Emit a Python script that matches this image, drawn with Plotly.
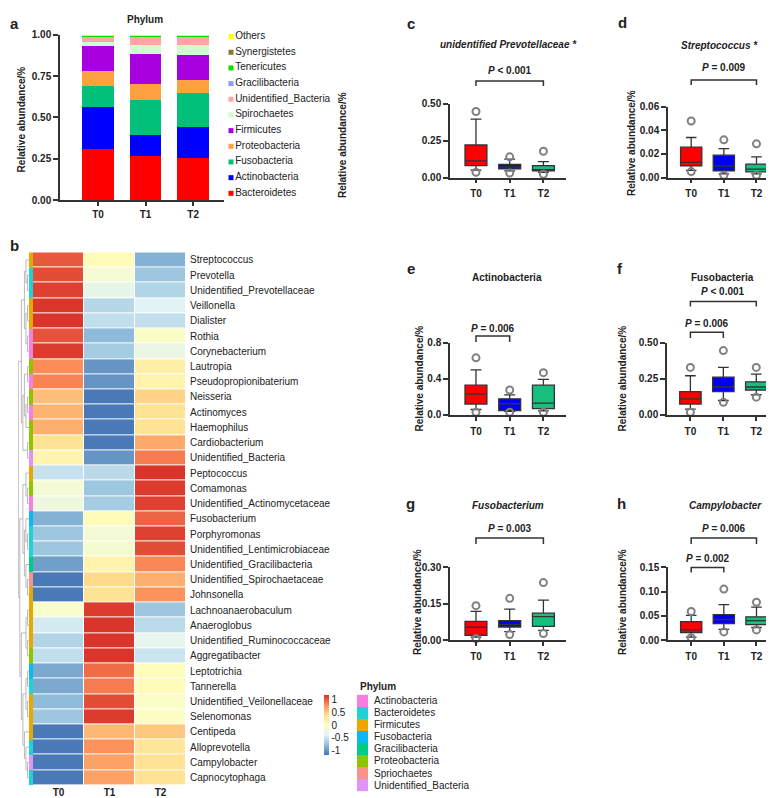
import plotly.graph_objects as go

W, H = 774, 798
FONT = "Liberation Sans"
INK = "#222222"
AX = "#333333"


def fx(p):
    return p / W


def fy(p):
    return 1 - p / H


# ---------------- data: panel a (stacked phylum composition) ----------------
groups = ["T0", "T1", "T2"]
phyla_a = ["Bacteroidetes", "Actinobacteria", "Fusobacteria", "Proteobacteria",
           "Firmicutes", "Spirochaetes", "Unidentified_Bacteria", "Gracilibacteria",
           "Tenericutes", "Synergistetes", "Others"]
bacteroidetes = [0.309, 0.265, 0.257]
actinobacteria = [0.251, 0.129, 0.187]
fusobacteria = [0.129, 0.212, 0.204]
proteobacteria = [0.089, 0.097, 0.081]
firmicutes = [0.155, 0.180, 0.148]
spirochaetes = [0.023, 0.052, 0.058]
unidentified_bacteria = [0.034, 0.055, 0.055]
gracilibacteria = [0.003, 0.003, 0.003]
tenericutes = [0.002, 0.002, 0.002]
synergistetes = [0.002, 0.002, 0.002]
others = [0.003, 0.003, 0.003]
colors_a = ["#FF0000", "#0000FF", "#00C07A", "#FFA040", "#A800DE", "#CCFFCC",
            "#FFA5A5", "#8C9CFF", "#00E000", "#8C7A2A", "#FFFF00"]

# ---------------- data: panel b (heatmap of genera, row z-scores) ----------------
genera = ["Streptococcus", "Prevotella", "Unidentified_Prevotellaceae", "Veillonella",
          "Dialister", "Rothia", "Corynebacterium", "Lautropia", "Pseudopropionibaterium",
          "Neisseria", "Actinomyces", "Haemophilus", "Cardiobacterium", "Unidentified_Bacteria",
          "Peptococcus", "Comamonas", "Unidentified_Actinomycetaceae", "Fusobacterium",
          "Porphyromonas", "Unidentified_Lentimicrobiaceae", "Unidentified_Gracilibacteria",
          "Unidentified_Spirochaetaceae", "Johnsonella", "Lachnoanaerobaculum", "Anaeroglobus",
          "Unidentified_Ruminococcaceae", "Aggregatibacter", "Leptotrichia", "Tannerella",
          "Unidentified_Veilonellaceae", "Selenomonas", "Centipeda", "Alloprevotella",
          "Campylobacter", "Capnocytophaga"]
z_t0 = [1.00, 1.05, 1.10, 1.14, 1.15, 1.02, 1.12, 0.78, 0.82, 0.55, 0.60, 0.62, 0.35, 0.12,
        -0.52, -0.15, -0.22, -0.85, -0.72, -0.72, -0.95, -1.15, -1.15, -0.08, -0.45, -0.62,
        -0.55, -0.90, -0.90, -0.80, -0.72, -1.15, -1.15, -1.15, -1.15]
z_t1 = [0.05, -0.13, -0.30, -0.60, -0.55, -0.80, -0.68, -1.00, -1.00, -1.15, -1.15, -1.15,
        -1.15, -1.00, -0.58, -0.72, -0.68, 0.05, -0.15, -0.12, 0.15, 0.42, 0.35, 1.12, 1.15,
        1.15, 1.15, 0.92, 0.85, 1.05, 1.12, 0.58, 0.75, 0.68, 0.68]
z_t2 = [-0.85, -0.72, -0.62, -0.38, -0.55, -0.05, -0.25, 0.20, 0.15, 0.45, 0.35, 0.35, 0.65,
        0.85, 1.15, 1.12, 1.10, 0.95, 1.10, 1.05, 0.80, 0.62, 0.75, -0.72, -0.58, -0.32,
        -0.50, 0.03, 0.05, -0.05, -0.03, 0.50, 0.30, 0.35, 0.35]
phylum_names = ["Actinobacteria", "Bacteroidetes", "Firmicutes", "Fusobacteria",
                "Gracilibacteria", "Proteobacteria", "Spriochaetes", "Unidentified_Bacteria"]
phylum_colors = ["#F77FE0", "#1DD3D8", "#E8A800", "#0BB8F5", "#00CC8A", "#8FC400",
                 "#F8938A", "#DE94F8"]
genus_phylum = ["Firmicutes", "Bacteroidetes", "Bacteroidetes", "Firmicutes", "Firmicutes",
                "Actinobacteria", "Actinobacteria", "Proteobacteria", "Actinobacteria",
                "Proteobacteria", "Actinobacteria", "Proteobacteria", "Proteobacteria",
                "Unidentified_Bacteria", "Firmicutes", "Proteobacteria", "Actinobacteria",
                "Fusobacteria", "Bacteroidetes", "Bacteroidetes", "Gracilibacteria",
                "Spriochaetes", "Firmicutes", "Firmicutes", "Firmicutes", "Firmicutes",
                "Proteobacteria", "Fusobacteria", "Bacteroidetes", "Firmicutes", "Firmicutes",
                "Firmicutes", "Bacteroidetes", "Unidentified_Bacteria", "Bacteroidetes"]
# row dendrogram (nested merges of row indices)
dendro_tree = [[[[0, [1, 2]], [[3, 4], [5, 6]]], [[[7, 8], [[9, 10], 11]], [12, 13]]],
               [[[14, [15, 16]], [[17, [18, 19]], [20, [21, 22]]]],
                [[[23, 24], [25, 26]], [[[27, 28], [29, 30]], [31, [32, [33, 34]]]]]]]
heat_ticks = [-1, -0.5, 0, 0.5, 1]
heat_ticktext = ["-1", "-0.5", "0", "0.5", "1"]

# ---------------- data: box panels c-h ----------------
# each: q1, median, q3, lower whisker, upper whisker, points (per group)
c_q1 = [0.080, 0.058, 0.045]; c_med = [0.113, 0.071, 0.053]; c_q3 = [0.220, 0.089, 0.080]
c_lo = [0.050, 0.045, 0.035]; c_hi = [0.395, 0.125, 0.107]
c_pts = [[0.447, 0.035], [0.140, 0.030], [0.178, 0.022]]
d_q1 = [0.0100, 0.0056, 0.0047]; d_med = [0.0128, 0.0097, 0.0072]; d_q3 = [0.0258, 0.0190, 0.0114]
d_lo = [0.0060, 0.0030, 0.0030]; d_hi = [0.0340, 0.0245, 0.0175]
d_pts = [[0.048, 0.005], [0.032, 0.002], [0.0286, 0.002]]
e_q1 = [0.120, 0.047, 0.070]; e_med = [0.230, 0.124, 0.130]; e_q3 = [0.330, 0.179, 0.330]
e_lo = [0.060, 0.040, 0.045]; e_hi = [0.500, 0.222, 0.395]
e_pts = [[0.635, 0.030], [0.277, 0.030], [0.470, 0.030]]
f_q1 = [0.075, 0.162, 0.173]; f_med = [0.112, 0.194, 0.194]; f_q3 = [0.162, 0.262, 0.230]
f_lo = [0.040, 0.100, 0.140]; f_hi = [0.272, 0.330, 0.283]
f_pts = [[0.330, 0.018], [0.447, 0.087], [0.330, 0.123]]
g_q1 = [0.020, 0.054, 0.057]; g_med = [0.053, 0.064, 0.097]; g_q3 = [0.077, 0.080, 0.111]
g_lo = [0.012, 0.035, 0.040]; g_hi = [0.118, 0.128, 0.165]
g_pts = [[0.142, 0.007], [0.172, 0.023], [0.237, 0.027]]
h_q1 = [0.0157, 0.0340, 0.0320]; h_med = [0.0210, 0.0425, 0.0400]; h_q3 = [0.0380, 0.0524, 0.0480]
h_lo = [0.0060, 0.0220, 0.0260]; h_hi = [0.0510, 0.0730, 0.0680]
h_pts = [[0.059, 0.005], [0.105, 0.017], [0.078, 0.021]]
box_colors = ["#FF0000", "#0000EE", "#17BF7F"]

fig = go.Figure()
layout = dict(width=W, height=H, margin=dict(l=0, r=0, t=0, b=0),
              paper_bgcolor="white", plot_bgcolor="white", showlegend=False,
              barmode="stack", font=dict(family=FONT, size=10, color=INK))
annotations = []
shapes = []
BOLD10 = dict(family=FONT, size=10, color=INK, weight="bold")


def ann(text, x, y, size=10, bold=True, italic=False, xanchor="center", angle=0,
        xref="paper", yref="paper"):
    t = f"<i>{text}</i>" if italic else text
    annotations.append(dict(text=t, x=x, y=y, xref=xref, yref=yref, showarrow=False,
                            xanchor=xanchor, yanchor="middle", textangle=angle,
                            font=dict(family=FONT, size=size, color=INK,
                                      weight="bold" if bold else "normal")))


def axis_style(**kw):
    d = dict(showgrid=False, zeroline=False, showline=True, linecolor=AX, linewidth=1.5,
             ticks="outside", tickcolor=AX, tickwidth=1.5, tickfont=BOLD10, fixedrange=True)
    d.update(kw)
    return d


hidden = dict(visible=False, showgrid=False, zeroline=False, fixedrange=True)

# ---------------- panel a ----------------
series_a = [bacteroidetes, actinobacteria, fusobacteria, proteobacteria, firmicutes,
            spirochaetes, unidentified_bacteria, gracilibacteria, tenericutes,
            synergistetes, others]
for name, vals, col in zip(phyla_a, series_a, colors_a):
    fig.add_bar(x=[0, 1, 2], y=vals, name=name, marker_color=col, marker_line_width=0,
                width=0.67, xaxis="x", yaxis="y")
layout["xaxis"] = axis_style(domain=[fx(52), fx(216)], range=[-0.8, 2.65], anchor="y",
                             tickvals=[0, 1, 2], ticktext=groups, ticklen=4)
layout["yaxis"] = axis_style(domain=[fy(189), fy(21)], range=[0, 1], anchor="x",
                             tickvals=[0, 0.25, 0.5, 0.75, 1], tickformat=".2f", ticklen=5)
# custom legend for panel a
fig.add_scatter(x=[4] * len(phyla_a), y=list(range(len(phyla_a))), mode="markers+text",
                text=phyla_a, textposition="middle right", cliponaxis=False,
                marker=dict(symbol="square", size=5, color=colors_a),
                textfont=dict(family=FONT, size=10, color=INK), xaxis="x2", yaxis="y2",
                hoverinfo="skip")
layout["xaxis2"] = dict(hidden, domain=[fx(219), fx(330)], range=[0, 111], anchor="y2")
layout["yaxis2"] = dict(hidden, domain=[fy(190), fy(15)], range=[-0.5, 10.5], anchor="x2")
ann("Phylum", fx(137), fy(6))
ann("Relative abundance/%", fx(13), fy(107), angle=-90)

# ---------------- panel b heatmap ----------------
rdylbu = ["#4575B4", "#91BFDB", "#E0F3F8", "#FFFFBF", "#FEE090", "#FC8D59", "#D73027"]
cs = [[i / (len(rdylbu) - 1), c] for i, c in enumerate(rdylbu)]
zmat = [[a, b, c] for a, b, c in zip(z_t0, z_t1, z_t2)]
fig.add_heatmap(z=zmat, x=groups, y=genera, colorscale=cs, zmin=-1.17, zmax=1.17,
                xgap=1, ygap=1, xaxis="x3", yaxis="y3",
                colorbar=dict(x=fx(316), xanchor="left", y=fy(722), yanchor="middle",
                              len=60, lenmode="pixels", thickness=5, thicknessmode="pixels",
                              tickvals=heat_ticks, ticktext=heat_ticktext, ticks="",
                              outlinewidth=0, xpad=0, ypad=0,
                              tickfont=dict(family=FONT, size=10, color=INK)))
layout["xaxis3"] = dict(domain=[fx(25), fx(178)], anchor="y3", showgrid=False, zeroline=False,
                        showline=False, ticks="", tickfont=BOLD10, fixedrange=True)
layout["yaxis3"] = dict(domain=[fy(783), fy(242)], anchor="x3", side="right",
                        autorange="reversed", showgrid=False, zeroline=False, showline=False,
                        ticks="", ticklabelstandoff=3, fixedrange=True,
                        tickmode="array", tickvals=genera,
                        tickfont=dict(family=FONT, size=10, color=INK))

# phylum sidebar
n_ph = len(phylum_names)
ph_cs = []
for i, c in enumerate(phylum_colors):
    ph_cs += [[i / n_ph, c], [(i + 1) / n_ph, c]]
side_z = [[phylum_names.index(p)] for p in genus_phylum]
fig.add_heatmap(z=side_z, x=["phylum"], y=genera, colorscale=ph_cs, zmin=-0.5,
                zmax=n_ph - 0.5, showscale=False, xaxis="x4", yaxis="y4", hoverinfo="skip")
layout["xaxis4"] = dict(hidden, domain=[fx(21), fx(25)], anchor="y4")
layout["yaxis4"] = dict(hidden, domain=[fy(783), fy(242)], anchor="x4", autorange="reversed")


# dendrogram
def dendro_segments(node):
    if isinstance(node, int):
        return float(node), 0.0, [], []
    pa, ha, xa, ya = dendro_segments(node[0])
    pb, hb, xb, yb = dendro_segments(node[1])
    h = max(ha, hb) + 1
    xs = xa + xb + [-ha, -h, -h, -hb, None]
    ys = ya + yb + [pa, pa, pb, pb, None]
    return (pa + pb) / 2, h, xs, ys


_, root_h, dxs, dys = dendro_segments(dendro_tree)
fig.add_scatter(x=dxs, y=dys, mode="lines", line=dict(color="#A8A8A8", width=0.8),
                xaxis="x5", yaxis="y5", hoverinfo="skip")
layout["xaxis5"] = dict(hidden, domain=[fx(10), fx(21)], range=[-root_h - 0.2, 0],
                        anchor="y5")
layout["yaxis5"] = dict(hidden, domain=[fy(783), fy(242)], range=[len(genera) - 0.5, -0.5],
                        anchor="x5")

# phylum legend
fig.add_heatmap(z=[[i] for i in range(n_ph)], x=["p"], y=phylum_names, colorscale=ph_cs,
                zmin=-0.5, zmax=n_ph - 0.5, showscale=False, xaxis="x6", yaxis="y6",
                hoverinfo="skip")
layout["xaxis6"] = dict(hidden, domain=[fx(349), fx(360)], anchor="y6")
layout["yaxis6"] = dict(domain=[fy(789), fy(691)], anchor="x6", side="right",
                        autorange="reversed", showgrid=False, zeroline=False, showline=False,
                        ticks="", ticklabelstandoff=5, fixedrange=True,
                        tickmode="array", tickvals=phylum_names, ticktext=phylum_names,
                        tickfont=dict(family=FONT, size=10, color=INK))
ann("Phylum", fx(350), fy(683), size=10, xanchor="left")

# ---------------- box panels ----------------
panels = [
    # key, axis idx, data, xdomain px, ydomain px (bottom, top), top value, tickvals, fmt, xrange
    ("c", 7, (c_q1, c_med, c_q3, c_lo, c_hi, c_pts), (442, 558), (166, 91), 0.5,
     [0, 0.25, 0.5], ".2f", [-0.77, 2.67]),
    ("d", 8, (d_q1, d_med, d_q3, d_lo, d_hi, d_pts), (660, 772), (166, 94.3), 0.06,
     [0, 0.02, 0.04, 0.06], ".2f", [-0.71, 2.72]),
    ("e", 9, (e_q1, e_med, e_q3, e_lo, e_hi, e_pts), (442, 558), (407, 334), 0.8,
     [0, 0.4, 0.8], ".1f", [-0.77, 2.67]),
    ("f", 10, (f_q1, f_med, f_q3, f_lo, f_hi, f_pts), (659, 772), (407, 334), 0.5,
     [0, 0.25, 0.5], ".2f", [-0.71, 2.72]),
    ("g", 11, (g_q1, g_med, g_q3, g_lo, g_hi, g_pts), (442, 558), (635.7, 561.7), 0.3,
     [0, 0.15, 0.3], ".2f", [-0.77, 2.67]),
    ("h", 12, (h_q1, h_med, h_q3, h_lo, h_hi, h_pts), (660, 772), (635.7, 561.7), 0.15,
     [0, 0.05, 0.10, 0.15], ".2f", [-0.71, 2.72]),
]
for key, k, data, xd, yd, top, tv, fmt, xr in panels:
    q1s, meds, q3s, los, his, pts = data
    xa, ya = f"x{k}", f"y{k}"
    for i in range(3):
        fig.add_box(x=[i], q1=[q1s[i]], median=[meds[i]], q3=[q3s[i]], lowerfence=[los[i]],
                    upperfence=[his[i]], width=0.65, whiskerwidth=0.5,
                    fillcolor=box_colors[i], line=dict(color=AX, width=1.3),
                    boxpoints=False, xaxis=xa, yaxis=ya, hoverinfo="skip")
        fig.add_scatter(x=[i] * len(pts[i]), y=pts[i], mode="markers", cliponaxis=False,
                        marker=dict(symbol="circle-open", size=7, color="#808080",
                                    line=dict(width=2, color="#808080")),
                        xaxis=xa, yaxis=ya, hoverinfo="skip")
    layout[f"xaxis{k}"] = axis_style(domain=[fx(xd[0]), fx(xd[1])], range=xr, anchor=ya,
                                      tickvals=[0, 1, 2], ticktext=groups, ticklen=4,
                                      ticklabelstandoff=2)
    layout[f"yaxis{k}"] = axis_style(domain=[fy(yd[0]), fy(yd[1])], range=[0, top],
                                      anchor=xa, tickvals=tv, tickformat=fmt, ticklen=5)

# brackets and p-values: (axis idx, x0, x1, text y, bracket top y, leg y, label)
brackets = [
    (7, 0, 2, 57, 68, 73, "&lt; 0.001"),
    (8, 0, 2, 54, 67, 72, "= 0.009"),
    (9, 0, 1, 319, 327, 333, "= 0.006"),
    (10, 0, 2, 282, 292, 297, "&lt; 0.001"),
    (10, 0, 1, 314, 323, 329, "= 0.006"),
    (11, 0, 2, 522, 532, 538, "= 0.003"),
    (12, 0, 2, 522, 532, 538, "= 0.006"),
    (12, 0, 1, 553, 562, 567, "= 0.002"),
]
for k, x0, x1, ty, by, ly, lab in brackets:
    shapes.append(dict(type="path", xref=f"x{k}", yref="paper",
                       path=f"M {x0},{fy(ly)} L {x0},{fy(by)} L {x1},{fy(by)} L {x1},{fy(ly)}",
                       line=dict(color=AX, width=1.5)))
    ann(f"<i>P</i> {lab}", (x0 + x1) / 2, fy(ty), xref=f"x{k}")

# titles
ann("unidentified Prevotellaceae *", fx(500), fy(31), italic=True)
ann("Streptococcus *", fx(711), fy(32), italic=True)
ann("Actinobacteria", fx(499), fy(268))
ann("Fusobacteria", fx(714), fy(268))
ann("Fusobacterium", fx(500), fy(499), italic=True)
ann("Campylobacter", fx(717), fy(499), italic=True)

# y-axis titles
for x, y in [(335, 133), (623, 131), (411, 370), (614, 370), (409, 597), (614, 597)]:
    ann("Relative abundance/%", fx(x), fy(y), angle=-90)

# panel letters
for letter, x, y in [("a", 7, 10), ("b", 7, 235), ("c", 403, 10), ("d", 614, 9),
                     ("e", 403, 258), ("f", 612, 258), ("g", 403, 497), ("h", 613, 497)]:
    ann(letter, fx(x), fy(y), size=15)

layout["annotations"] = annotations
layout["shapes"] = shapes
fig.update_layout(**layout)
fig.write_html("out.html")
